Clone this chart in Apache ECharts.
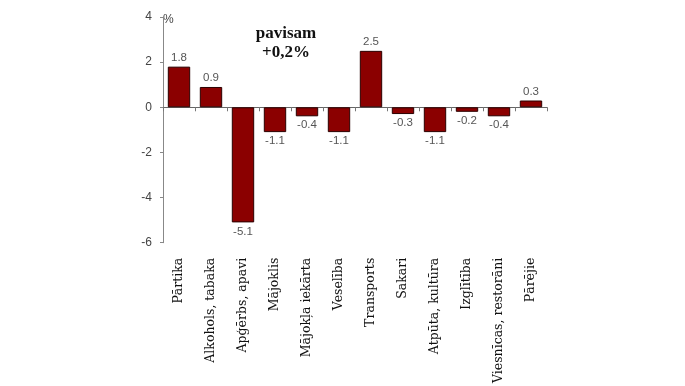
<!DOCTYPE html>
<html><head><meta charset="utf-8">
<script src="https://cdn.jsdelivr.net/npm/echarts@6/dist/echarts.min.js"></script>
<style>html,body{margin:0;padding:0;background:#fff}#c{width:685px;height:386px}</style>
</head><body><div id="c"></div>
<script>
const categories = ['Pārtika','Alkohols, tabaka','Apģērbs, apavi','Mājoklis','Mājokļa iekārta','Veselība','Transports','Sakari','Atpūta, kultūra','Izglītība','Viesnīcas, restorāni','Pārējie'];
const values = [1.8, 0.9, -5.1, -1.1, -0.4, -1.1, 2.5, -0.3, -1.1, -0.2, -0.4, 0.3];
const yTicks = {min: -6, max: 4, interval: 2};
const titleLines = ['pavisam', '+0,2%'];

const chart = echarts.init(document.getElementById('c'), null, {renderer: 'canvas'});
chart.setOption({
  animation: false,
  backgroundColor: '#fff',
  grid: {left: 163, right: 138, top: 17, bottom: 143},
  title: {
    text: titleLines.join('\n'), left: 281, top: 19, textAlign: 'center',
    textStyle: {fontFamily: 'Liberation Serif', fontWeight: 'bold', fontSize: 17, color: '#111', lineHeight: 19}
  },
  graphic: [{type: 'text', left: 163, top: 14, style: {text: '%', fontFamily: 'Liberation Sans', fontSize: 12, fill: '#444'}}],
  xAxis: [{
    type: 'category', data: categories, position: 'bottom',
    axisLine: {show: false, onZero: false}, axisTick: {show: false},
    axisLabel: {rotate: 90, margin: 15, fontFamily: 'DejaVu Serif', fontSize: 12.5, color: '#111', interval: 0}
  }, {
    type: 'category', data: categories, position: 'bottom',
    axisLine: {show: true, onZero: true, lineStyle: {color: '#666', width: 1}},
    axisTick: {show: true, length: 4, lineStyle: {color: '#777'}, interval: 0},
    axisLabel: {show: false}
  }],
  yAxis: {
    type: 'value', min: yTicks.min, max: yTicks.max, interval: yTicks.interval,
    splitLine: {show: false},
    axisLine: {show: true, lineStyle: {color: '#888'}},
    axisTick: {show: true, length: 3, lineStyle: {color: '#888'}},
    axisLabel: {margin: 11, fontFamily: 'Liberation Sans', fontSize: 12, color: '#444'}
  },
  series: [{
    type: 'bar', xAxisIndex: 0, barWidth: '70%',
    data: values.map(v => ({value: v, label: {position: v < 0 ? 'bottom' : 'top'}})),
    itemStyle: {color: '#8b0000', borderColor: '#2a0000', borderWidth: 1},
    label: {
      show: true, fontFamily: 'Liberation Sans', fontSize: 11.5, color: '#555', distance: 3,
      formatter: p => p.value.toFixed(1)
    }
  }]
});
</script></body></html>
